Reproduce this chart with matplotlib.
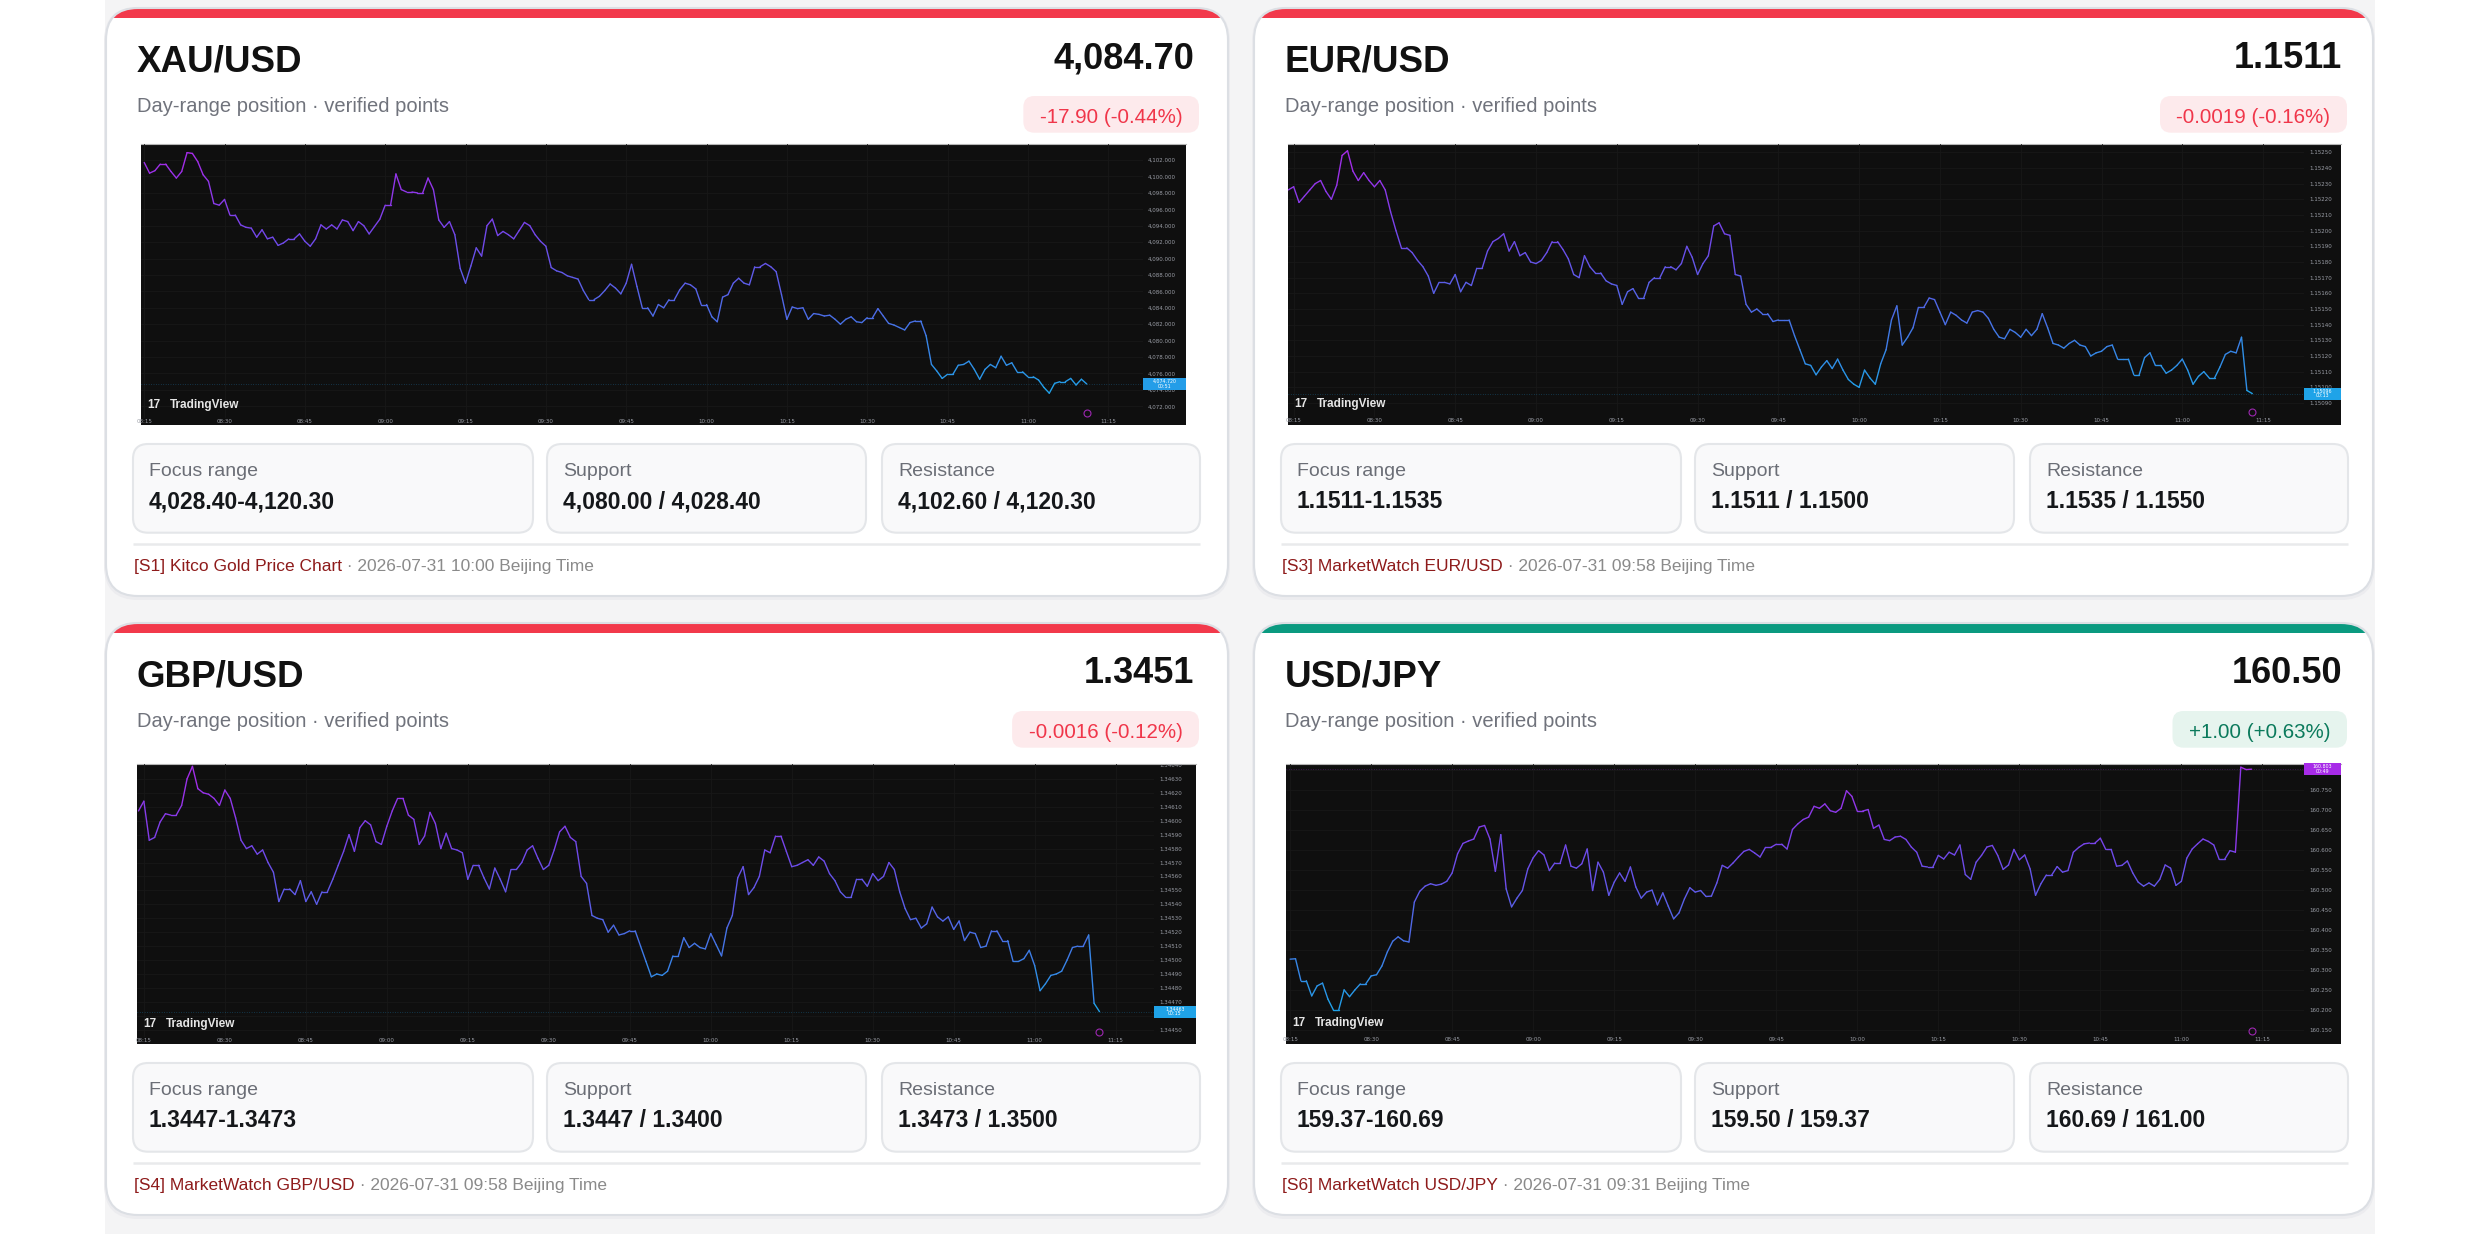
import numpy as np
import pandas as pd
import matplotlib
matplotlib.use("Agg")
import matplotlib.pyplot as plt
import matplotlib.dates as mdates
import matplotlib.transforms as mtrans
from matplotlib.patches import FancyBboxPatch, Rectangle
from matplotlib.collections import LineCollection
from matplotlib.colors import LinearSegmentedColormap, Normalize
from matplotlib.ticker import MultipleLocator, FuncFormatter

plt.rcParams['font.family'] = ['Liberation Sans', 'DejaVu Sans']

# card contents
pairs = ["XAU/USD", "EUR/USD", "GBP/USD", "USD/JPY"]
last_price = ["4,084.70", "1.1511", "1.3451", "160.50"]
change_text = ["-17.90 (-0.44%)", "-0.0019 (-0.16%)", "-0.0016 (-0.12%)", "+1.00 (+0.63%)"]
direction = ["down", "down", "down", "up"]
stat_names = ["Focus range", "Support", "Resistance"]
focus_range = ["4,028.40-4,120.30", "1.1511-1.1535", "1.3447-1.3473", "159.37-160.69"]
support = ["4,080.00 / 4,028.40", "1.1511 / 1.1500", "1.3447 / 1.3400", "159.50 / 159.37"]
resistance = ["4,102.60 / 4,120.30", "1.1535 / 1.1550", "1.3473 / 1.3500", "160.69 / 161.00"]
source = ["[S1] Kitco Gold Price Chart", "[S3] MarketWatch EUR/USD",
          "[S4] MarketWatch GBP/USD", "[S6] MarketWatch USD/JPY"]
stamp = ["2026-07-31 10:00 Beijing Time", "2026-07-31 09:58 Beijing Time",
         "2026-07-31 09:58 Beijing Time", "2026-07-31 09:31 Beijing Time"]

# 1-minute closes
xau_start = "2026-07-31 08:15"
xau_close = [
    4101.7, 4100.4, 4100.7, 4101.5, 4101.5, 4100.6, 4099.8, 4100.6, 4102.9, 4102.8,
    4101.8, 4100.2, 4099.4, 4096.7, 4096.5, 4097.2, 4095.3, 4095.3, 4094.1, 4093.8,
    4093.7, 4092.6, 4093.5, 4092.4, 4092.6, 4091.6, 4091.9, 4092.4, 4092.4, 4093.0,
    4092.1, 4091.5, 4092.4, 4094.1, 4093.6, 4094.1, 4093.6, 4094.7, 4094.5, 4093.4,
    4094.5, 4094.0, 4093.0, 4093.9, 4094.8, 4096.5, 4096.5, 4100.3, 4098.4, 4098.1,
    4098.1, 4098.0, 4098.0, 4099.8, 4098.4, 4094.7, 4093.8, 4094.5, 4092.9, 4088.8,
    4087.0, 4089.1, 4091.3, 4090.3, 4094.0, 4094.8, 4092.8, 4093.3, 4092.9, 4092.4,
    4093.4, 4094.4, 4094.0, 4092.9, 4092.1, 4091.5, 4088.9, 4088.5, 4088.3, 4087.9,
    4087.7, 4087.5, 4086.1, 4085.0, 4085.0, 4085.4, 4086.1, 4086.9, 4086.4, 4085.7,
    4087.0, 4089.3, 4086.6, 4084.0, 4084.0, 4083.0, 4084.4, 4084.0, 4085.0, 4085.0,
    4086.2, 4087.0, 4086.8, 4086.3, 4084.4, 4084.4, 4082.9, 4082.3, 4085.3, 4085.6,
    4087.0, 4087.6, 4087.0, 4086.8, 4089.0, 4089.0, 4089.4, 4089.0, 4088.4, 4085.6,
    4082.6, 4084.1, 4083.9, 4084.0, 4082.6, 4083.3, 4083.2, 4083.0, 4083.1, 4082.6,
    4082.0, 4082.6, 4082.9, 4082.3, 4082.2, 4082.8, 4082.8, 4083.9, 4083.0, 4082.1,
    4081.9, 4081.6, 4081.3, 4082.2, 4082.4, 4082.4, 4080.6, 4077.1, 4076.3, 4075.4,
    4075.9, 4075.9, 4077.0, 4077.1, 4077.5, 4076.5, 4075.3, 4076.5, 4077.1, 4076.7,
    4078.1, 4077.0, 4077.3, 4076.2, 4076.2, 4075.6, 4075.6, 4075.2, 4074.3, 4073.6,
    4074.8, 4075.0, 4075.0, 4075.4, 4074.6, 4075.3, 4074.72]

eur_start = "2026-07-31 08:14"
eur_close = [
    1.15226, 1.15228, 1.15218, 1.15222, 1.15226, 1.15230, 1.15232, 1.15225, 1.15220, 1.15229,
    1.15248, 1.15251, 1.15238, 1.15232, 1.15237, 1.15232, 1.15228, 1.15232, 1.15226, 1.15212,
    1.15200, 1.15189, 1.15189, 1.15186, 1.15181, 1.15177, 1.15171, 1.15160, 1.15167, 1.15167,
    1.15166, 1.15172, 1.15161, 1.15167, 1.15165, 1.15176, 1.15176, 1.15187, 1.15193, 1.15195,
    1.15198, 1.15187, 1.15193, 1.15184, 1.15186, 1.15180, 1.15179, 1.15181, 1.15186, 1.15193,
    1.15193, 1.15188, 1.15182, 1.15172, 1.15170, 1.15184, 1.15177, 1.15173, 1.15173, 1.15168,
    1.15166, 1.15165, 1.15153, 1.15161, 1.15163, 1.15157, 1.15157, 1.15167, 1.15170, 1.15170,
    1.15177, 1.15177, 1.15175, 1.15179, 1.15190, 1.15183, 1.15172, 1.15179, 1.15184, 1.15203,
    1.15205, 1.15198, 1.15197, 1.15172, 1.15171, 1.15153, 1.15148, 1.15150, 1.15147, 1.15147,
    1.15142, 1.15143, 1.15143, 1.15143, 1.15133, 1.15124, 1.15115, 1.15114, 1.15108, 1.15113,
    1.15117, 1.15112, 1.15118, 1.15111, 1.15105, 1.15102, 1.15100, 1.15111, 1.15106, 1.15102,
    1.15115, 1.15124, 1.15143, 1.15152, 1.15127, 1.15132, 1.15138, 1.15151, 1.15151, 1.15157,
    1.15156, 1.15148, 1.15140, 1.15148, 1.15146, 1.15143, 1.15141, 1.15148, 1.15149, 1.15148,
    1.15144, 1.15137, 1.15132, 1.15131, 1.15137, 1.15135, 1.15132, 1.15137, 1.15133, 1.15137,
    1.15147, 1.15138, 1.15128, 1.15127, 1.15125, 1.15128, 1.15130, 1.15127, 1.15126, 1.15120,
    1.15122, 1.15123, 1.15126, 1.15127, 1.15118, 1.15118, 1.15118, 1.15108, 1.15108, 1.15119,
    1.15122, 1.15114, 1.15114, 1.15109, 1.15111, 1.15114, 1.15118, 1.15111, 1.15102, 1.15107,
    1.15110, 1.15106, 1.15106, 1.15113, 1.15121, 1.15123, 1.15122, 1.15132, 1.15098, 1.15096]

gbp_start = "2026-07-31 08:14"
gbp_close = [
    1.34607, 1.34614, 1.34586, 1.34588, 1.34599, 1.34605, 1.34604, 1.34604, 1.34611, 1.34630,
    1.34639, 1.34623, 1.34620, 1.34619, 1.34616, 1.34611, 1.34622, 1.34616, 1.34602, 1.34586,
    1.34580, 1.34582, 1.34576, 1.34579, 1.34570, 1.34563, 1.34542, 1.34551, 1.34551, 1.34547,
    1.34557, 1.34542, 1.34549, 1.34540, 1.34549, 1.34549, 1.34558, 1.34568, 1.34578, 1.34590,
    1.34578, 1.34595, 1.34600, 1.34597, 1.34585, 1.34583, 1.34596, 1.34607, 1.34616, 1.34616,
    1.34604, 1.34601, 1.34583, 1.34589, 1.34606, 1.34598, 1.34580, 1.34591, 1.34580, 1.34579,
    1.34577, 1.34558, 1.34568, 1.34568, 1.34559, 1.34551, 1.34566, 1.34558, 1.34549, 1.34565,
    1.34565, 1.34570, 1.34579, 1.34582, 1.34573, 1.34565, 1.34568, 1.34579, 1.34592, 1.34596,
    1.34588, 1.34585, 1.34560, 1.34555, 1.34532, 1.34530, 1.34529, 1.34520, 1.34525, 1.34518,
    1.34519, 1.34521, 1.34521, 1.34510, 1.34499, 1.34488, 1.34490, 1.34489, 1.34492, 1.34503,
    1.34503, 1.34516, 1.34509, 1.34512, 1.34509, 1.34508, 1.34519, 1.34511, 1.34503, 1.34523,
    1.34532, 1.34559, 1.34567, 1.34547, 1.34552, 1.34560, 1.34579, 1.34577, 1.34589, 1.34589,
    1.34578, 1.34567, 1.34568, 1.34570, 1.34572, 1.34568, 1.34574, 1.34571, 1.34562, 1.34557,
    1.34549, 1.34545, 1.34545, 1.34558, 1.34558, 1.34553, 1.34562, 1.34557, 1.34560, 1.34570,
    1.34565, 1.34549, 1.34537, 1.34529, 1.34530, 1.34523, 1.34526, 1.34538, 1.34531, 1.34528,
    1.34531, 1.34522, 1.34528, 1.34514, 1.34520, 1.34519, 1.34509, 1.34510, 1.34521, 1.34521,
    1.34514, 1.34514, 1.34499, 1.34499, 1.34501, 1.34507, 1.34496, 1.34478, 1.34483, 1.34489,
    1.34490, 1.34492, 1.34500, 1.34509, 1.34510, 1.34510, 1.34518, 1.34469, 1.34463]

jpy_start = "2026-07-31 08:15"
jpy_close = [
    160.327, 160.328, 160.273, 160.273, 160.235, 160.260, 160.267, 160.227, 160.200, 160.200,
    160.250, 160.233, 160.250, 160.265, 160.265, 160.285, 160.288, 160.310, 160.345, 160.372,
    160.383, 160.373, 160.370, 160.470, 160.497, 160.510, 160.516, 160.512, 160.515, 160.522,
    160.543, 160.591, 160.617, 160.623, 160.628, 160.658, 160.662, 160.628, 160.547, 160.639,
    160.503, 160.458, 160.480, 160.499, 160.553, 160.581, 160.599, 160.588, 160.549, 160.568,
    160.568, 160.613, 160.560, 160.555, 160.566, 160.603, 160.499, 160.570, 160.545, 160.487,
    160.520, 160.543, 160.522, 160.558, 160.508, 160.480, 160.495, 160.500, 160.463, 160.493,
    160.460, 160.428, 160.443, 160.478, 160.506, 160.495, 160.499, 160.484, 160.485, 160.518,
    160.562, 160.555, 160.568, 160.583, 160.597, 160.602, 160.593, 160.583, 160.607, 160.607,
    160.615, 160.615, 160.603, 160.652, 160.666, 160.677, 160.683, 160.710, 160.705, 160.716,
    160.699, 160.695, 160.705, 160.749, 160.735, 160.698, 160.698, 160.702, 160.655, 160.663,
    160.627, 160.624, 160.633, 160.635, 160.627, 160.608, 160.595, 160.560, 160.558, 160.558,
    160.587, 160.578, 160.595, 160.588, 160.613, 160.539, 160.527, 160.570, 160.587, 160.608,
    160.612, 160.587, 160.552, 160.563, 160.602, 160.576, 160.588, 160.553, 160.487, 160.516,
    160.538, 160.538, 160.559, 160.545, 160.549, 160.595, 160.607, 160.616, 160.618, 160.618,
    160.630, 160.602, 160.602, 160.560, 160.562, 160.573, 160.543, 160.520, 160.510, 160.518,
    160.510, 160.527, 160.563, 160.555, 160.512, 160.522, 160.580, 160.603, 160.616, 160.628,
    160.622, 160.613, 160.577, 160.577, 160.599, 160.595, 160.808, 160.802, 160.803]

series_start = [xau_start, eur_start, gbp_start, jpy_start]
series_close = [xau_close, eur_close, gbp_close, jpy_close]
countdown = ["00:51", "00:13", "00:15", "00:49"]
tick_times = ["08:15", "08:30", "08:45", "09:00", "09:15", "09:30", "09:45",
              "10:00", "10:15", "10:30", "10:45", "11:00", "11:15"]

# view window of each embedded chart
price_step = [2, 0.0001, 0.0001, 0.05]
price_fmt = ["{:,.3f}", "{:.5f}", "{:.5f}", "{:.3f}"]
x_window = [(-0.6, 186.5), (-1.05, 187.6), (-1.27, 187.1), (-0.76, 187.7)]
y_window = [(4070.7, 4103.95), (1.150817, 1.152553), (1.344455, 1.346407), (160.137, 160.816)]

# layout in pixels
W, H = 2480, 1234
cards = [(106, 8, 588, 1122), (1254, 8, 588, 1119), (106, 623, 592, 1122), (1254, 623, 592, 1119)]
chart_img = [(141, 144, 1186, 425), (1288, 144, 2341, 425),
             (137, 764, 1196, 1044), (1286, 764, 2341, 1044)]
plot_edge = [(1143, 417), (2304, 416), (1154, 1036), (2304, 1035)]
stat_x = [(27, 427), (441, 760), (776, 1094)]

RED, GREEN = "#f2394b", "#0a9a80"
cmap = LinearSegmentedColormap.from_list("tv", ["#1fa3e8", "#4d6be6", "#7446ea", "#a82ae8"])

fig = plt.figure(figsize=(W / 100, H / 100), dpi=100)
fig.patch.set_facecolor("white")


def fbox(x0, y0, x1, y1):
    return [x0 / W, 1 - y1 / H, (x1 - x0) / W, (y1 - y0) / H]


page = fig.add_axes([0, 0, 1, 1])
page.set_xlim(0, W)
page.set_ylim(H, 0)
page.axis("off")
page.add_patch(Rectangle((105, 0), 2270, H, fc="#f4f4f5", lw=0))

renderer = fig.canvas.get_renderer()

for i in range(4):
    L, T, ch, cw = cards[i]
    up = direction[i] == "up"
    # shadow + card
    page.add_patch(FancyBboxPatch((L - 2, T - 1), cw + 4, ch + 5,
                                  boxstyle="round,pad=0,rounding_size=34", fc="#ececef", lw=0))
    card = FancyBboxPatch((L, T), cw, ch, boxstyle="round,pad=0,rounding_size=32",
                          fc="white", lw=0)
    page.add_patch(card)
    bar = Rectangle((L, T), cw, 10, fc=GREEN if up else RED, lw=0)
    page.add_patch(bar)
    bar.set_clip_path(card)
    page.add_patch(FancyBboxPatch((L, T), cw, ch, boxstyle="round,pad=0,rounding_size=32",
                                  fc="none", ec="#dcdfe4", lw=1.5))

    page.text(L + 30.7, T + 63.7, pairs[i], fontsize=26.5, fontweight="bold",
              color="#111111", ha="left", va="baseline")
    page.text(L + 1088, T + 60.3, last_price[i], fontsize=26, fontweight="bold",
              color="#111111", ha="right", va="baseline")
    page.text(L + 30.7, T + 103.7, "Day-range position \u00b7 verified points", fontsize=14.5,
              color="#70737c", ha="left", va="baseline")

    # change badge
    bt = page.text(L + 1093 - 16.5, T + 114.7, change_text[i], fontsize=14.8,
                   color="#0b7a5c" if up else "#f0364a", ha="right", va="baseline", zorder=3)
    bw = bt.get_window_extent(renderer=renderer).width
    page.add_patch(FancyBboxPatch((L + 1093 - 33 - bw, T + 88), bw + 33, 36.7,
                                  boxstyle="round,pad=0,rounding_size=11",
                                  fc="#e6f4ee" if up else "#fdeaec", lw=0, zorder=2))

    # stat boxes
    vals = [focus_range[i], support[i], resistance[i]]
    sy0, sy1 = T + 436 + (ch - 588), T + 524.7 + (ch - 588)
    for k, (a, b) in enumerate(stat_x):
        page.add_patch(FancyBboxPatch((L + a, sy0), b - a, sy1 - sy0,
                                      boxstyle="round,pad=0,rounding_size=15",
                                      fc="#f9f9fa", ec="#e4e6e9", lw=1.5))
        page.text(L + a + 16, sy0 + 32, stat_names[k], fontsize=14, color="#6b6e76",
                  ha="left", va="baseline")
        page.text(L + a + 16, sy0 + 64.3, vals[k], fontsize=16.5, fontweight="bold",
                  color="#15171a", ha="left", va="baseline")

    page.plot([L + 27, L + 1094], [sy1 + 11.3] * 2, color="#e9eaec", lw=1.8,
              solid_capstyle="butt")
    st = page.text(L + 28, sy1 + 38, source[i], fontsize=12.5, color="#8e1b1b",
                   ha="left", va="baseline")
    sw = st.get_window_extent(renderer=renderer).width
    page.text(L + 28 + sw, sy1 + 38, " \u00b7 " + stamp[i], fontsize=12.5, color="#8a8a8a",
              ha="left", va="baseline")

# embedded intraday charts
base = pd.Timestamp("2026-07-31 08:15")
for i in range(4):
    x0, y0, x1, y1 = chart_img[i]
    pr, pb = plot_edge[i]
    closes = np.array(series_close[i])

    ax_bg = fig.add_axes(fbox(x0, y0, x1, y1))
    ax_bg.set_facecolor("#0f0f0f")
    ax_bg.set_xticks([])
    ax_bg.set_yticks([])
    for s in ax_bg.spines.values():
        s.set_visible(False)
    ax_bg.spines["top"].set_visible(True)
    ax_bg.spines["top"].set_color("#b5b5b5")
    ax_bg.spines["top"].set_linewidth(0.8)

    ax = fig.add_axes(fbox(x0, y0, pr, pb))
    ax.patch.set_alpha(0)
    for s in ax.spines.values():
        s.set_visible(False)

    times = mdates.date2num(pd.date_range(series_start[i], periods=len(closes), freq="min"))
    xa, xb = x_window[i]
    ax.set_xlim(mdates.date2num(base + pd.Timedelta(minutes=xa)),
                mdates.date2num(base + pd.Timedelta(minutes=xb)))
    ax.set_ylim(*y_window[i])

    norm = Normalize(closes.min(), closes.max())
    pts = np.column_stack([times, closes])
    segs = np.stack([pts[:-1], pts[1:]], axis=1)
    lc = LineCollection(segs, cmap=cmap, norm=norm, linewidths=1.0, capstyle="round")
    lc.set_array((closes[:-1] + closes[1:]) / 2)
    ax.add_collection(lc)

    tick_pos = [mdates.date2num(pd.Timestamp("2026-07-31 " + t)) for t in tick_times]
    xlabels = ax.set_xticks(tick_pos, tick_times)
    ax.yaxis.set_major_locator(MultipleLocator(price_step[i]))
    fmt = price_fmt[i]
    ax.yaxis.set_major_formatter(FuncFormatter(lambda v, p, fmt=fmt: fmt.format(v)))
    ax.yaxis.tick_right()
    ax.tick_params(axis="both", length=0, labelsize=4, labelcolor="#9a9da6")
    ax.tick_params(axis="y", pad=3.5)
    ax.tick_params(axis="x", pad=1.2)
    for lbl in ax.get_xticklabels() + ax.get_yticklabels():
        lbl.set_family("DejaVu Sans")
    ax.grid(True, color="#181818", lw=0.6)
    ax.set_axisbelow(True)

    clip = Rectangle((0, 0), 1, 1, transform=ax_bg.transAxes)
    for lbl in xlabels + ax.get_yticklabels():
        lbl.set_clip_path(clip)

    # last price marker on the scale
    last = closes[-1]
    tag_col = cmap(norm(last))
    ax.axhline(last, color=tag_col, lw=0.5, ls=(0, (1, 2.5)), alpha=0.5)
    blend = mtrans.blended_transform_factory(ax.transAxes, ax.transData)
    tw = (x1 - pr) / (pr - x0)
    th = 12 * (y_window[i][1] - y_window[i][0]) / (pb - y0)
    ax.add_patch(Rectangle((1.0, last - th / 2), tw, th, transform=blend, fc=tag_col,
                           lw=0, clip_on=False, zorder=5))
    ax.text(1.0 + tw / 2, last, fmt.format(last) + "\n" + countdown[i], transform=blend,
            fontsize=3.4, color="white", ha="center", va="center", linespacing=0.9,
            family="DejaVu Sans", zorder=6, clip_on=False)

    # logo and event marker
    pw, ph = pr - x0, pb - y0
    ax.text(6 / pw, 6 / ph, "17", transform=ax.transAxes, fontsize=8.5, fontweight="heavy",
            color="#e6e6e6", ha="left", va="bottom")
    ax.text(29 / pw, 6 / ph, "TradingView", transform=ax.transAxes, fontsize=8.5,
            fontweight="bold", color="#e6e6e6", ha="left", va="bottom")
    mark = mtrans.blended_transform_factory(ax.transData, ax.transAxes)
    ax.plot([times[-1]], [0.015], transform=mark, marker="o", mfc="none", mec="#9c27b0",
            ms=5, mew=0.8, clip_on=False)

fig.savefig("out.png", dpi=100, facecolor="white")
